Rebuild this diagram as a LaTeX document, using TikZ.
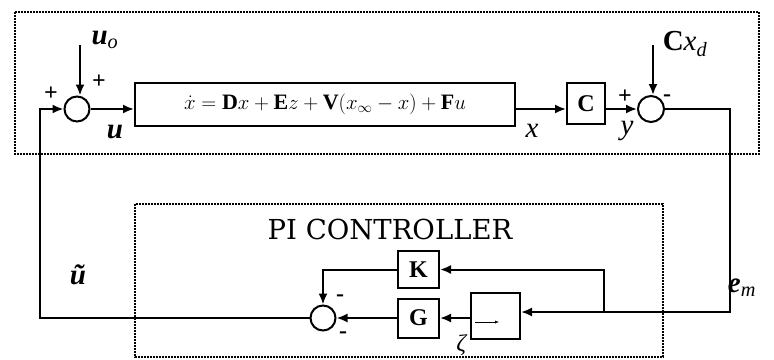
\documentclass[tikz,border=0pt]{standalone}
\usepackage{fontspec}
\setmainfont{Liberation Serif}
\newfontfamily\slabfont{DejaVu Serif}
\usepackage{tikz}
\usetikzlibrary{calc,arrows.meta}

\begin{document}
\begin{tikzpicture}[x=1pt, y=-1pt,
        every node/.style={inner sep=0pt},
        blk/.style={
          draw, line width=2pt,
          font=\fontsize{24}{28}\selectfont,
          align=center,
        },
        sum/.style={draw, circle, line width=2pt, minimum size=25pt},
        grp/.style={draw, line width=2pt, densely dotted},
        arr/.style={-{Latex[length=11pt,width=9pt]}, line width=2pt},
        lbl/.style={font=\fontsize{29}{33}\selectfont},
        sgn/.style={font=\bfseries\fontsize{24}{26}\selectfont},
        ttl/.style={font=\slabfont\fontsize{27.5}{32}\selectfont},
      ]
      \useasboundingbox (0,0) rectangle (774,359);

      % plant loop and controller frames
      \draw[grp] (15,12) rectangle (759,154);
      \draw[grp] (135,204) rectangle (663,357);

      \node[sum] (s1) at (77,109) {};
      \node[blk, minimum width=380pt, minimum height=43pt, font=\fontsize{22}{26}\selectfont] (plant) at (325,104.5)
        {$\dot x = \mathbf{D}x + \mathbf{E}z + \mathbf{V}(x_\infty - x) + \mathbf{F}u$};
      \node[blk, minimum width=38pt, minimum height=41pt] (cb) at (586,103.5) {$\mathbf{C}$};
      \node[sum, minimum size=26pt] (s2) at (651,109) {};

      \node[blk, minimum width=41pt, minimum height=37pt] (kb) at (418.5,269.5) {$\mathbf{K}$};
      \node[blk, minimum width=41pt, minimum height=39pt] (gb) at (418.5,318) {$\mathbf{G}$};
      \node[blk, minimum width=49pt, minimum height=46pt] (ib) at (495.5,316) {};
      \node[sum] (s3) at (323,318) {};

      \coordinate (uo) at (80,45);
      \coordinate (cxd) at (653,45);
      \coordinate (em) at (730,312);
      \coordinate (br) at (604,312);
      \coordinate (fbl) at (40,318);

      \draw[arr] (uo) -- (uo |- s1.north);
      \draw[arr] (s1.east) -- (s1.east -| plant.west);
      \draw[arr] (plant.east |- s2.west) -- (cb.west |- s2.west);
      \draw[arr] (cb.east |- s2.west) -- (s2.west);
      \draw[arr] (cxd) -- (cxd |- s2.north);

      \draw[arr] (s2.east) -| (em) -- (em -| ib.east);
      \draw[arr] (br) |- (kb.east);
      \draw[arr] (ib.west |- gb.east) -- (gb.east);
      \draw[arr] (gb.west) -- (s3.east);
      \draw[arr] (kb.west) -| (s3.north);
      \draw[arr] (s3.west) -- (fbl) |- (s1.west);

      % integrator glyph
      \draw[-latex, line width=0.4pt] (475,322) -- (499,322);

      \node[lbl] (luo) at (105,40) {\textbf{\textit{u}}\textsubscript{\textit{o}}};
      \node[sgn] (p1) at (99,82) {+};
      \node[sgn] (p2) at (51,94) {+};
      \node[lbl] (lu) at (115,132) {\textbf{\textit{u}}};
      \node[lbl] (lx) at (532,131) {\textit{x}};
      \node[sgn] (p3) at (625,97) {+};
      \node[lbl] (ly) at (627,131) {\textit{y}};
      \node[lbl] (lcx) at (685,44) {\textbf{C}\textit{x}\textsubscript{\textit{d}}};
      \node[sgn] (m1) at (667,98) {-};
      \node[lbl] (lem) at (742,288) {\textbf{\textit{e}}\textsubscript{\textit{m}}};
      \node[lbl] (lut) at (78,275) {\textbf{\textit{ũ}}};
      \node[ttl] (pi) at (390,229) {PI CONTROLLER};
      \node[lbl, font=\fontsize{24}{28}\selectfont] (lz) at (462,345) {\textit{ζ}};
      \node[sgn] (m2) at (340,298) {-};
      \node[sgn] (m3) at (343,335) {-};
    \end{tikzpicture}
\end{document}
